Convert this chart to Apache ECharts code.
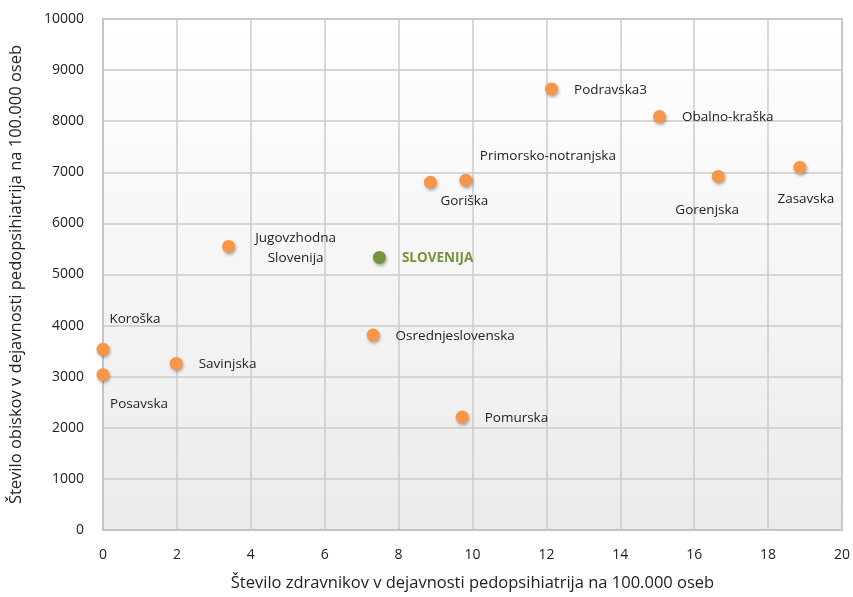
<!DOCTYPE html>
<html>
<head>
<meta charset="utf-8">
<script src="https://cdn.jsdelivr.net/npm/echarts@6/dist/echarts.min.js"></script>
<style>html,body{margin:0;padding:0;background:#fff}#c{width:853px;height:597px}</style>
</head>
<body>
<div id="c"></div>
<script>
// ---- data ----
var regions = ['Podravska3','Obalno-kraška','Zasavska','Gorenjska','Primorsko-notranjska','Goriška','Jugovzhodna\nSlovenija','Osrednjeslovenska','Koroška','Savinjska','Posavska','Pomurska'];
var doctors = [12.14, 15.06, 18.86, 16.65, 9.82, 8.86, 3.40, 7.31, 0.0, 1.98, 0.0, 9.72];
var visits  = [8630, 8090, 7095, 6920, 6845, 6805, 5550, 3815, 3535, 3260, 3040, 2210];
var nationalName = 'SLOVENIJA';
var nationalDoctors = [7.48];
var nationalVisits = [5335];
var xTicks = [0,2,4,6,8,10,12,14,16,18,20];
var yTicks = [0,1000,2000,3000,4000,5000,6000,7000,8000,9000,10000];
var xTitle = 'Število zdravnikov v dejavnosti pedopsihiatrija na 100.000 oseb';
var yTitle = 'Število obiskov v dejavnosti pedopsihiatrija na 100.000 oseb';

// ---- label layout (style, not data) ----
var labelLayout = {
  'Zasavska': {off:[6,32]},
  'Gorenjska': {off:[-11,34]},
  'Primorsko-notranjska': {off:[82,-24]},
  'Goriška': {off:[34,19]},
  'Jugovzhodna\nSlovenija': {off:[67,2]},
  'Koroška': {off:[32,-30]},
  'Posavska': {off:[36,30]}
};

var FONT = '"Open Sans", "Noto Sans", sans-serif';
var pts = regions.map(function(n,i){
  var lay = labelLayout[n];
  var lbl = lay ? {position:'inside', offset:lay.off, align:'center', verticalAlign:'middle'} :
                  {position:'right', distance:16, offset:[0,1]};
  return {name:n, value:[doctors[i], visits[i]], label:lbl};
});

var chart = echarts.init(document.getElementById('c'));
chart.setOption({
  animation:false,
  backgroundColor:'#ffffff',
  grid:{left:102, right:11, top:19, bottom:63.5, show:true,
    borderColor:'#c4c4c4', borderWidth:2,
    backgroundColor:{type:'linear',x:0,y:0,x2:0,y2:1,colorStops:[{offset:0,color:'#ffffff'},{offset:1,color:'#ebebeb'}]}},
  xAxis:{type:'value', min:xTicks[0], max:xTicks[xTicks.length-1], interval:2,
    name:xTitle, nameLocation:'middle', nameGap:45,
    nameTextStyle:{fontFamily:FONT, fontSize:16.5, color:'#222'},
    axisLine:{show:true, lineStyle:{color:'#c4c4c4', width:2}},
    axisTick:{show:false},
    axisLabel:{fontFamily:FONT, fontSize:14, color:'#222', margin:18},
    splitLine:{show:true, lineStyle:{color:'#cbcbcb', width:1.5}}},
  yAxis:{type:'value', min:yTicks[0], max:yTicks[yTicks.length-1], interval:1000,
    name:yTitle, nameLocation:'middle', nameGap:78,
    nameTextStyle:{fontFamily:FONT, fontSize:16.5, color:'#222'},
    axisLine:{show:true, lineStyle:{color:'#c4c4c4', width:2}},
    axisTick:{show:false},
    axisLabel:{fontFamily:FONT, fontSize:14, color:'#222', margin:19, formatter:function(v){return String(v);}},
    splitLine:{show:true, lineStyle:{color:'#cbcbcb', width:1.5}}},
  series:[
    {type:'scatter', symbolSize:13, data:pts,
     itemStyle:{color:'#F79646', opacity:1, shadowBlur:3, shadowOffsetX:1, shadowOffsetY:2, shadowColor:'rgba(0,0,0,0.3)'},
     label:{show:true, formatter:'{b}', fontFamily:FONT, fontSize:13.5, color:'#222', lineHeight:20}},
    {type:'scatter', symbolSize:13,
     data:nationalDoctors.map(function(d,i){return {name:nationalName, value:[d, nationalVisits[i]]};}),
     itemStyle:{color:'#77933C', opacity:1, shadowBlur:3, shadowOffsetX:1, shadowOffsetY:2, shadowColor:'rgba(0,0,0,0.3)'},
     label:{show:true, formatter:'{b}', position:'right', distance:16, offset:[0,1], fontFamily:FONT, fontSize:13.5, fontWeight:'bold', color:'#77933C'}}
  ]
});
</script>
</body>
</html>
